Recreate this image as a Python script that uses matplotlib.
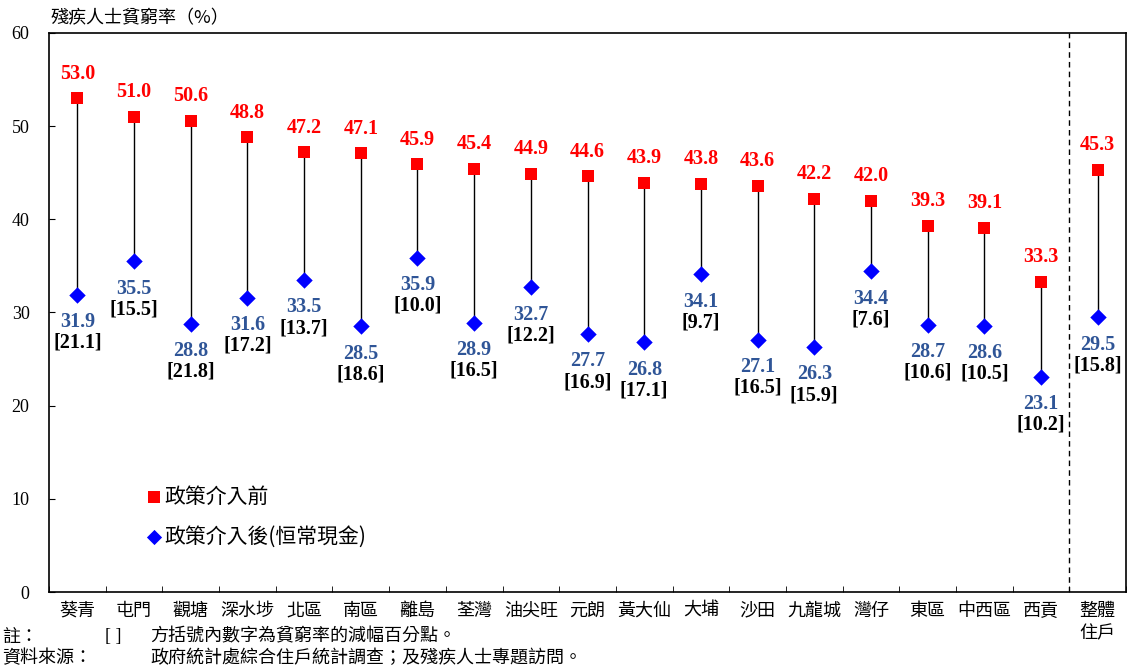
import matplotlib
matplotlib.use("Agg")
import matplotlib.pyplot as plt
import numpy as np

categories = ["葵青", "屯門", "觀塘", "深水埗", "北區", "南區", "離島", "荃灣", "油尖旺",
              "元朗", "黃大仙", "大埔", "沙田", "九龍城", "灣仔", "東區", "中西區", "西貢", "整體\n住戶"]
before = [53.0, 51.0, 50.6, 48.8, 47.2, 47.1, 45.9, 45.4, 44.9, 44.6, 43.9, 43.8, 43.6, 42.2, 42.0, 39.3, 39.1, 33.3, 45.3]
after = [31.9, 35.5, 28.8, 31.6, 33.5, 28.5, 35.9, 28.9, 32.7, 27.7, 26.8, 34.1, 27.1, 26.3, 34.4, 28.7, 28.6, 23.1, 29.5]
reduction = [21.1, 15.5, 21.8, 17.2, 13.7, 18.6, 10.0, 16.5, 12.2, 16.9, 17.1, 9.7, 16.5, 15.9, 7.6, 10.6, 10.5, 10.2, 15.8]

CJK = ["Noto Sans CJK TC", "DejaVu Sans"]
SERIF = ["Liberation Serif", "DejaVu Serif"]
RED = "#FF0000"
BLUE = "#0000FF"
BLUE_TXT = "#2F5597"

fig = plt.figure(figsize=(11.29, 6.66), dpi=100)
ax = fig.add_axes([0.0434, 0.1111, 0.9540, 0.8394])

x = np.arange(len(categories))
for i in x:
    ax.plot([i, i], [after[i], before[i]], color="black", lw=1.0, zorder=1)
ax.scatter(x, before, marker="s", s=80, color=RED, zorder=3, linewidths=0)
ax.scatter(x, after, marker="D", s=70, color=BLUE, zorder=3, linewidths=0)

for i in x:
    ax.annotate(f"{before[i]:.1f}", (i, before[i]), xytext=(0, 10.5), textcoords="offset points",
                ha="center", va="bottom", color=RED, fontsize=14.5, fontweight="bold", family=SERIF)
    ax.annotate(f"{after[i]:.1f}", (i, after[i]), xytext=(0, -12.5), textcoords="offset points",
                ha="center", va="top", color=BLUE_TXT, fontsize=14.5, fontweight="bold", family=SERIF)
    ax.annotate(f"[{reduction[i]:.1f}]", (i, after[i]), xytext=(0, -27.5), textcoords="offset points",
                ha="center", va="top", color="black", fontsize=14.5, fontweight="bold", family=SERIF)

ax.axvline(17.5, color="black", lw=1.0, ls=(0, (4, 3)))

ax.set_xlim(-0.5, len(categories) - 0.5)
ax.set_ylim(0, 60)
ax.set_yticks(range(0, 61, 10))
ax.set_yticklabels([str(v) for v in range(0, 61, 10)], family=SERIF, fontsize=13)
ax.set_xticks(x)
ax.set_xticklabels(categories, family=CJK, fontsize=13, linespacing=1.35)
ax.set_xticks(np.arange(-0.5, len(categories), 1), minor=True)
ax.tick_params(axis="x", which="major", length=0, pad=7)
ax.tick_params(axis="x", which="minor", length=4, direction="in")
ax.tick_params(axis="y", which="major", length=4, direction="in", pad=14)
for sp in ax.spines.values():
    sp.set_linewidth(1.2)

# legend
ax.scatter([1.36], [10.2], marker="s", s=70, color=RED, linewidths=0)
ax.text(1.53, 10.2, "政策介入前", family=CJK, fontsize=15, va="center", ha="left")
ax.scatter([1.36], [5.9], marker="D", s=60, color=BLUE, linewidths=0)
ax.text(1.53, 5.9, "政策介入後(恒常現金)", family=CJK, fontsize=15, va="center", ha="left")

fig.text(0.045, 0.972, "殘疾人士貧窮率（%）", family=CJK, fontsize=13, va="center", ha="left")
fig.text(0.002, 0.044, "註：", family=CJK, fontsize=13, va="center")
fig.text(0.093, 0.044, "[ ]", family=SERIF, fontsize=13, va="center")
fig.text(0.133, 0.044, "方括號內數字為貧窮率的減幅百分點。", family=CJK, fontsize=13, va="center")
fig.text(0.002, 0.012, "資料來源：", family=CJK, fontsize=13, va="center")
fig.text(0.133, 0.012, "政府統計處綜合住戶統計調查；及殘疾人士專題訪問。", family=CJK, fontsize=13, va="center")

fig.savefig("out.png", dpi=100)
